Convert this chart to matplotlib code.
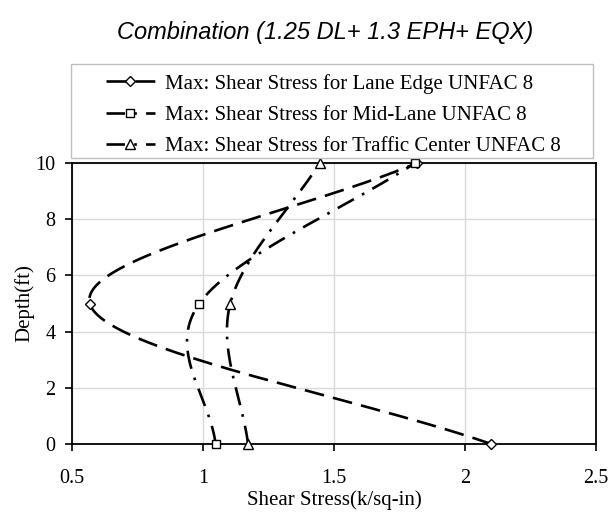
import numpy as np
import matplotlib
matplotlib.use("Agg")
import matplotlib.pyplot as plt
from matplotlib.patches import Rectangle

# ---- data ----
depth = [0, 5, 10]
lane_edge = [2.10, 0.568, 1.816]
mid_lane = [1.048, 0.986, 1.81]
traffic_center = [1.172, 1.104, 1.446]
labels = ["Max: Shear Stress for Lane Edge UNFAC 8",
          "Max: Shear Stress for Mid-Lane UNFAC 8",
          "Max: Shear Stress for Traffic Center UNFAC 8"]
title = "Combination (1.25 DL+ 1.3 EPH+ EQX)"
xticks = [0.5, 1, 1.5, 2, 2.5]
xticklabels = ["0.5", "1", "1.5", "2", "2.5"]
yticks = [0, 2, 4, 6, 8, 10]

W, H = 608, 515
fig = plt.figure(figsize=(W / 100, H / 100), dpi=100)
ax = fig.add_axes([72 / W, 1 - 444 / H, (596 - 72) / W, (444 - 163) / H])
ax.set_xlim(0.5, 2.5)
ax.set_ylim(0, 10)

serif = "Liberation Serif"

def smooth(xs, ys, n=80):
    """Excel-like smoothed line computed in display space."""
    P = ax.transData.transform(np.column_stack([xs, ys]))
    m = len(P)
    T = np.zeros_like(P)
    for i in range(m):
        if i == 0:
            T[i] = (P[1] - P[0]) / 3
        elif i == m - 1:
            T[i] = (P[-1] - P[-2]) / 3
        else:
            T[i] = (P[i + 1] - P[i - 1]) / 6
    pts = []
    t = np.linspace(0, 1, n)[:, None]
    for i in range(m - 1):
        p0, p3 = P[i], P[i + 1]
        c1, c2 = p0 + T[i], p3 - T[i + 1]
        b = (1 - t) ** 3 * p0 + 3 * (1 - t) ** 2 * t * c1 + 3 * (1 - t) * t ** 2 * c2 + t ** 3 * p3
        pts.append(b if i == 0 else b[1:])
    pts = np.vstack(pts)
    d = ax.transData.inverted().transform(pts)
    return d[:, 0], d[:, 1]

lw = 1.9
styles = [
    (lane_edge, (0, (7.5, 3.5)), "D", 5.0),
    (mid_lane, (0, (7, 3.5, 1, 3.5)), "s", 6.0),
    (traffic_center, (0, (7, 3.5, 1, 3.5)), "^", 6.5),
]
handles = []
for (vals, ls, mk, ms), lab in zip(styles, labels):
    sx, sy = smooth(vals, depth)
    ax.plot(sx, sy, color="black", lw=lw, linestyle=ls, zorder=3)
    ax.plot(vals, depth, linestyle="none", marker=mk, ms=ms, mfc="white",
            mec="black", mew=1.0, zorder=4, clip_on=False)
    h, = ax.plot([], [], color="black", lw=lw, linestyle=ls, marker=mk, ms=ms,
                 mfc="white", mec="black", mew=1.0, label=lab)
    handles.append(h)

ax.set_xticks(xticks)
ax.set_xticklabels(xticklabels)
ax.set_yticks(yticks)
ax.grid(True, color="#d9d9d9", lw=1.0)
ax.set_axisbelow(True)
for s in ax.spines.values():
    s.set_color("black")
    s.set_linewidth(1.3)
ax.tick_params(direction="out", length=5, width=1.2, colors="black")
ax.tick_params(axis="x", pad=13)
ax.tick_params(axis="y", pad=7)
for lbl in ax.get_xticklabels() + ax.get_yticklabels():
    lbl.set_fontfamily(serif)
    lbl.set_fontsize(14.5)

ax.set_xlabel("Shear Stress(k/sq-in)", fontfamily=serif, fontsize=15)
ax.xaxis.set_label_coords(0.5, (444 - 490) / 281)
ax.set_ylabel("Depth(ft)", fontfamily=serif, fontsize=15, va="center")
ax.yaxis.set_label_coords((24 - 72) / 524, 0.5)

fig.text(325 / W, 1 - 33 / H, title, fontfamily="Liberation Sans",
         style="italic", fontsize=17, ha="center", va="center")

# legend frame
fig.patches.append(Rectangle((71 / W, 1 - 158 / H), (593 - 71) / W, (158 - 64) / H,
                             transform=fig.transFigure, fill=True, fc="white",
                             ec="#bfbfbf", lw=1.0, zorder=1))
leg = fig.legend(handles=handles, loc="upper left",
                 bbox_to_anchor=(89 / W, 1 - 57 / H), frameon=False,
                 prop={"family": serif, "size": 15}, handlelength=2.35,
                 handletextpad=0.48, labelspacing=0.57, borderpad=0.3)
leg.set_zorder(2)

fig.savefig("out.png", dpi=100)
